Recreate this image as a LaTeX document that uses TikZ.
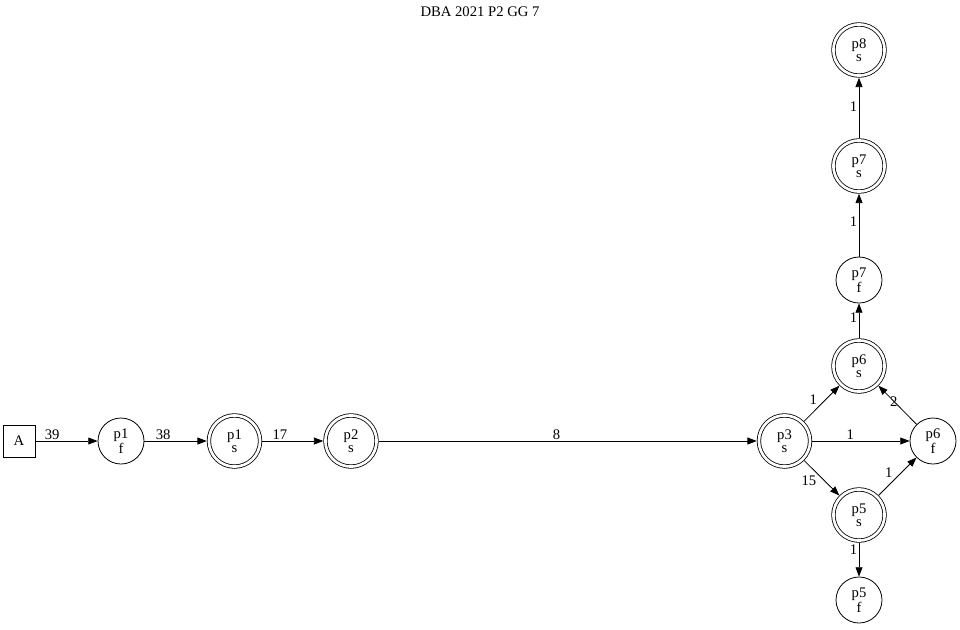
\documentclass[tikz,border=0pt]{standalone}
\usepackage{fontspec}
\setmainfont{Liberation Serif}
\usetikzlibrary{arrows.meta,positioning}

\begin{document}
\begin{tikzpicture}[
  x=0.75pt, y=-0.75pt,
  >={Triangle[length=7pt,width=5.2pt]},
  line width=0.6pt,
  every node/.style={font=\fontsize{11}{10}\selectfont},
  mystate/.style={
    circle,
    draw=black,
    align=center,
    inner sep=0pt,
    minimum size=34.5pt
  },
  myfinal/.style={
    circle,
    draw=black,
    double,
    double distance=2pt,
    align=center,
    inner sep=0pt,
    minimum size=38.4pt,
    outer sep=1.6pt
  },
  mybox/.style={
    rectangle,
    draw=black,
    minimum size=24pt
  },
  mylabel/.style={inner sep=1pt}
]
\useasboundingbox (0,0) rectangle (960,629);

% Titre
\node (title) at (480,12) {DBA 2021 P2 GG 7};

% Chaîne principale
\node[mybox] (A) at (19,441) {A};
\node[mystate] (p1f) at (121,441) {p1\\f};
\node[myfinal] (p1s) at (234.5,441) {p1\\s};
\node[myfinal] (p2s) at (351,441) {p2\\s};
\node[myfinal] (p3s) at (784.5,441) {p3\\s};

% Branches
\node[myfinal] (p6s) at (859,366) {p6\\s};
\node[mystate] (p6f) at (933,441) {p6\\f};
\node[myfinal] (p5s) at (859,515) {p5\\s};
\node[mystate] (p5f) at (859,600) {p5\\f};
\node[mystate] (p7f) at (859,280) {p7\\f};
\node[myfinal] (p7s) at (859,166) {p7\\s};
\node[myfinal] (p8s) at (859,50) {p8\\s};

% Flèches
\draw[->] (A) -- node[mylabel, pos=0.27, above] {39} (p1f);
\draw[->] (p1f) -- node[mylabel, pos=0.3, above] {38} (p1s);
\draw[->] (p1s) -- node[mylabel, pos=0.29, above] {17} (p2s);
\draw[->] (p2s) -- node[mylabel, pos=0.47, above] {8} (p3s);
\draw[->] (p3s) -- node[mylabel, pos=0.6, left=5pt] {1} (p6s);
\draw[->] (p3s) -- node[mylabel, pos=0.39, above] {1} (p6f);
\draw[->] (p3s) -- node[mylabel, pos=0.58, left=5pt] {15} (p5s);
\draw[->] (p6f) -- node[mylabel, pos=0.6] {2} (p6s);
\draw[->] (p5s) -- node[mylabel, pos=0.59, left=5pt] {1} (p6f);
\draw[->] (p5s) -- node[mylabel, pos=0.19, left=0pt] {1} (p5f);
\draw[->] (p6s) -- node[mylabel, pos=0.58, left=0pt] {1} (p7f);
\draw[->] (p7f) -- node[mylabel, pos=0.55, left=0pt] {1} (p7s);
\draw[->] (p7s) -- node[mylabel, pos=0.53, left=0pt] {1} (p8s);
\end{tikzpicture}
\end{document}
